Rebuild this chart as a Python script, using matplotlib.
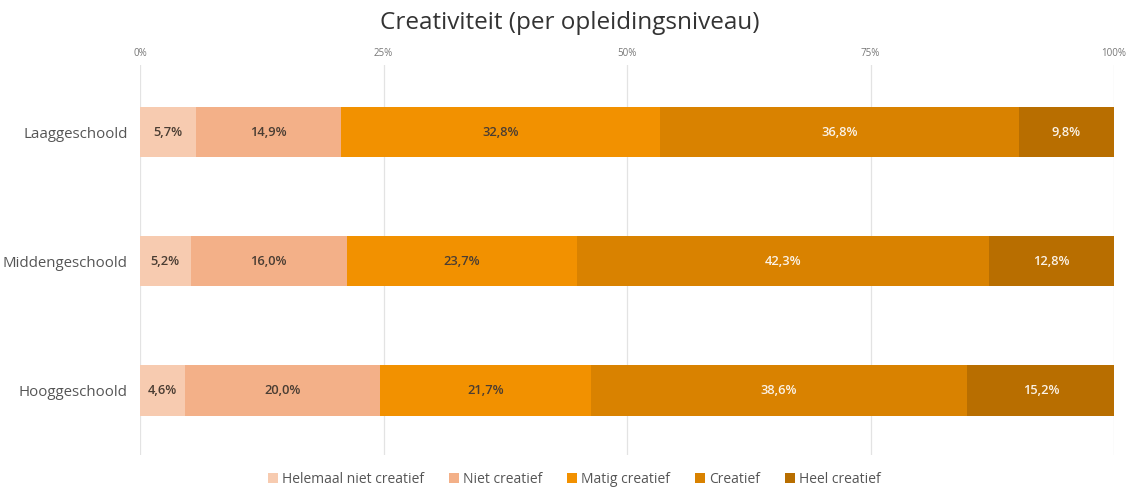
import matplotlib
matplotlib.use("Agg")
import matplotlib.pyplot as plt
from matplotlib.patches import Patch

plt.rcParams['font.family'] = ['Open Sans', 'DejaVu Sans']

levels = ["Laaggeschoold", "Middengeschoold", "Hooggeschoold"]
categories = ["Helemaal niet creatief", "Niet creatief", "Matig creatief", "Creatief", "Heel creatief"]
helemaal_niet = [5.7, 5.2, 4.6]
niet = [14.9, 16.0, 20.0]
matig = [32.8, 23.7, 21.7]
creatief = [36.8, 42.3, 38.6]
heel = [9.8, 12.8, 15.2]
series = [helemaal_niet, niet, matig, creatief, heel]

colors = ["#f7cbb0", "#f3b088", "#f29100", "#d98200", "#b86e00"]
text_colors = ["#4a3d33", "#4a3d33", "#4a3d33", "#fbf3e8", "#fbf3e8"]
tick_labels = ["0%", "25%", "50%", "75%", "100%"]
ticks = [0, 25, 50, 75, 100]

fig = plt.figure(figsize=(11.31, 4.88), dpi=100)
ax = fig.add_axes([0.1238, 0.0676, 0.8612, 0.7992])

ypos = list(range(len(levels)))
left = [0.0] * len(levels)
for vals, col, tcol in zip(series, colors, text_colors):
    ax.barh(ypos, vals, left=left, height=0.39, color=col, edgecolor='none', zorder=2)
    for y, v, l in zip(ypos, vals, left):
        ax.text(l + v / 2, y, f"{v:.1f}%".replace('.', ','), ha='center', va='center',
                fontsize=9.3, color=tcol, fontweight='semibold', zorder=3)
    left = [l + v for l, v in zip(left, vals)]

ax.set_xlim(0, 100)
ax.set_ylim(2.5, -0.52)
ax.set_yticks(ypos)
ax.set_yticklabels(levels, fontsize=10.8, color="#555555")
ax.set_xticks(ticks)
ax.set_xticklabels(tick_labels, fontsize=7, color="#777777")
ax.xaxis.tick_top()
ax.tick_params(axis='both', length=0)
ax.tick_params(axis='x', pad=4)
ax.tick_params(axis='y', pad=9)
ax.grid(axis='x', color="#e3e3e3", linewidth=0.9, zorder=0)
for s in ax.spines.values():
    s.set_visible(False)

fig.text(0.504, 0.952, "Creativiteit (per opleidingsniveau)", ha='center', va='center',
         fontsize=17.5, color="#333333")

handles = [Patch(facecolor=c, edgecolor='none') for c in colors]
fig.legend(handles, categories, loc='center', bbox_to_anchor=(0.508, 0.018), ncol=5,
           frameon=False, fontsize=10, handlelength=0.7, handleheight=0.7,
           handletextpad=0.3, columnspacing=1.8, labelcolor="#555555")

fig.savefig("out.png", dpi=100)
